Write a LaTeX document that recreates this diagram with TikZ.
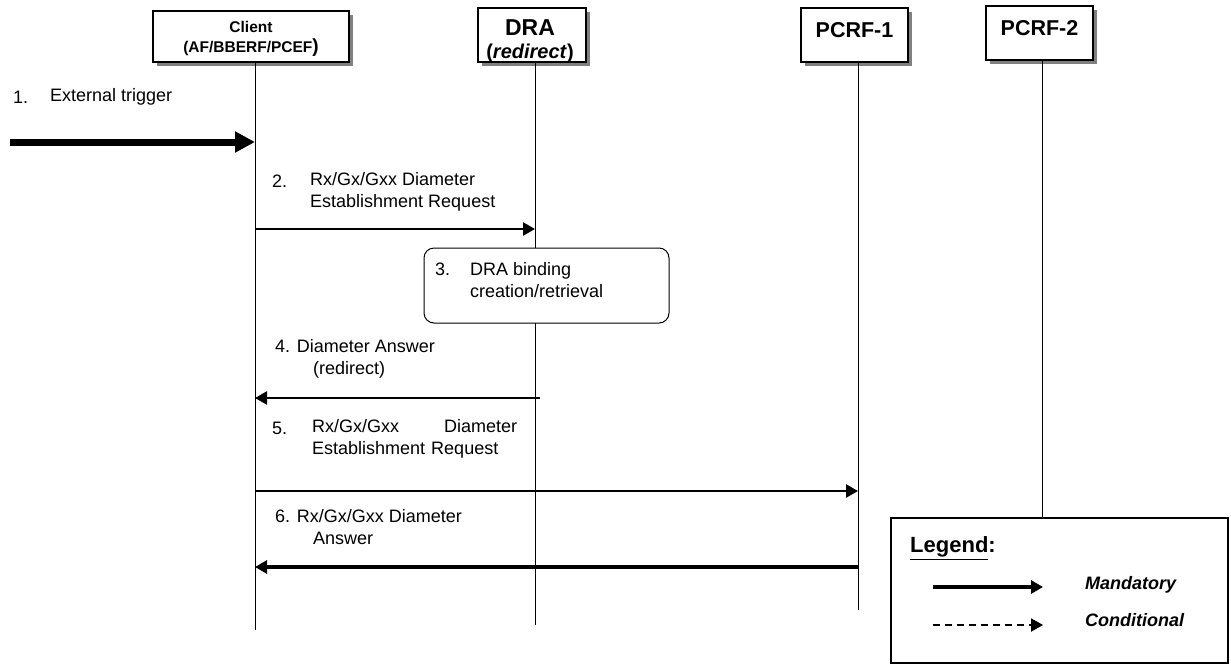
\documentclass[tikz,border=0pt]{standalone}
\usepackage{fontspec}
\setmainfont{Liberation Sans}
\usetikzlibrary{arrows.meta,shadows}

\begin{document}
\begin{tikzpicture}[x=1pt, y=-1pt,
  entity/.style={draw, line width=1.3pt, fill=white, inner sep=0pt,
    minimum width=#1, minimum height=54pt,
    drop shadow={shadow xshift=4pt, shadow yshift=-4pt, fill=black!50, opacity=1}},
  hdr/.style={inner sep=0pt, align=center, font=\bfseries},
  life/.style={line width=1pt},
  msg/.style={-{Triangle[length=12pt,width=13pt]}, line width=2.5pt},
  lbl/.style={anchor=west, inner sep=0pt, align=left,
    font=\fontsize{18}{22}\selectfont},
  legtxt/.style={anchor=west, inner sep=0pt,
    font=\fontsize{18}{22}\selectfont\bfseries\itshape}
]
\useasboundingbox (0,0) rectangle (1231,665);

% lifeline heads
\node[entity=196pt, minimum height=51pt] (client) at (251,36.5) {};
\node[hdr, font=\fontsize{15.5}{20}\selectfont\bfseries] (client-txt) at (251,39)
  {Client\\(AF/BBERF/PCEF{\fontsize{19}{20}\selectfont)}};
\node[entity=108pt] (dra) at (532,35) {};
\node[hdr, font=\fontsize{23}{23}\selectfont\bfseries] (dra-txt) at (530,41)
  {DRA\\{\fontsize{20}{23}\selectfont (\textit{redirect})}};
\node[entity=107pt] (pcrf1) at (854.5,35) {};
\node[hdr, font=\fontsize{21.5}{24}\selectfont\bfseries] (pcrf1-txt) at (854.5,30) {PCRF-1};
\node[entity=107pt] (pcrf2) at (1039.5,33) {};
\node[hdr, font=\fontsize{21.5}{24}\selectfont\bfseries] (pcrf2-txt) at (1039.5,28) {PCRF-2};

% legend
\node[draw, line width=2pt, fill=white, minimum width=337pt, minimum height=145pt,
  inner sep=0pt] (legend) at (1059.5,590.5) {};

% lifelines
\coordinate (client-end) at (255,630);
\coordinate (dra-end) at (535,625);
\coordinate (pcrf1-end) at (858,610);
\coordinate (pcrf2-end) at (1042,0);
\draw[life] (client.south -| client-end) -- (client-end);
\draw[life] (dra.south -| dra-end) -- (dra-end);
\draw[life] (pcrf1.south -| pcrf1-end) -- (pcrf1-end);
\draw[life] (pcrf2.south -| pcrf2-end) -- (legend.north -| pcrf2-end);

% 1. external trigger
\node[lbl] (n1) at (13,97) {1.};
\node[lbl] (t1) at (50,97) {External trigger};
\coordinate (m1) at (10,142);
\draw[line width=7pt, -{Triangle[length=20pt,width=20pt]}] (m1) -- (m1 -| client-end);

% 2. establishment request to DRA
\node[lbl] (n2) at (272,181) {2.};
\node[lbl] (t2) at (310,191.5) {Rx/Gx/Gxx Diameter\\Establishment Request};
\coordinate (m2) at (0,229);
\draw[msg] (m2 -| client-end) -- (m2 -| dra-end);

% 3. binding
\node[draw, fill=white, line width=1pt, rounded corners=10pt, minimum width=245pt,
  minimum height=75pt] (bind) at (546.5,285.5) {};
\node[lbl] (n3) at (435,269) {3.};
\node[lbl] (t3) at (470,280.5) {DRA binding\\creation/retrieval};

% 4. answer (redirect)
\node[lbl] (t4) at (275,359) {4. Diameter Answer\\\hspace*{38pt}(redirect)};
\coordinate (m4) at (0,398);
\draw[msg, shorten <=-5pt] (m4 -| dra-end) -- (m4 -| client-end);

% 5. establishment request to PCRF-1
\node[lbl] (n5) at (272,428) {5.};
\node[lbl, text width=205pt] (t5) at (312,439)
  {Rx/Gx/Gxx\hfill Diameter\\Establishment Request};
\coordinate (m5) at (0,491);
\draw[msg] (m5 -| client-end) -- (m5 -| pcrf1-end);

% 6. answer
\node[lbl] (t6) at (275,527.5) {6. Rx/Gx/Gxx Diameter\\\hspace*{38pt}Answer};
\coordinate (m6) at (0,567);
\draw[msg, line width=4pt] (m6 -| pcrf1-end) -- (m6 -| client-end);

% legend content
\node[anchor=west, inner sep=0pt, font=\fontsize{22}{24}\selectfont\bfseries]
  (legtitle) at (910,548) {\underline{Legend}:};
\coordinate (mand-a) at (933,587);
\coordinate (mand-b) at (1043,587);
\coordinate (cond-a) at (933,625);
\coordinate (cond-b) at (1043,625);
\draw[msg, line width=4pt] (mand-a) -- (mand-b);
\draw[msg, line width=2pt, dash pattern=on 7pt off 5pt] (cond-a) -- (cond-b);
\node[legtxt] (mand) at (1085,585) {Mandatory};
\node[legtxt] (cond) at (1085,620) {Conditional};
\end{tikzpicture}
\end{document}
